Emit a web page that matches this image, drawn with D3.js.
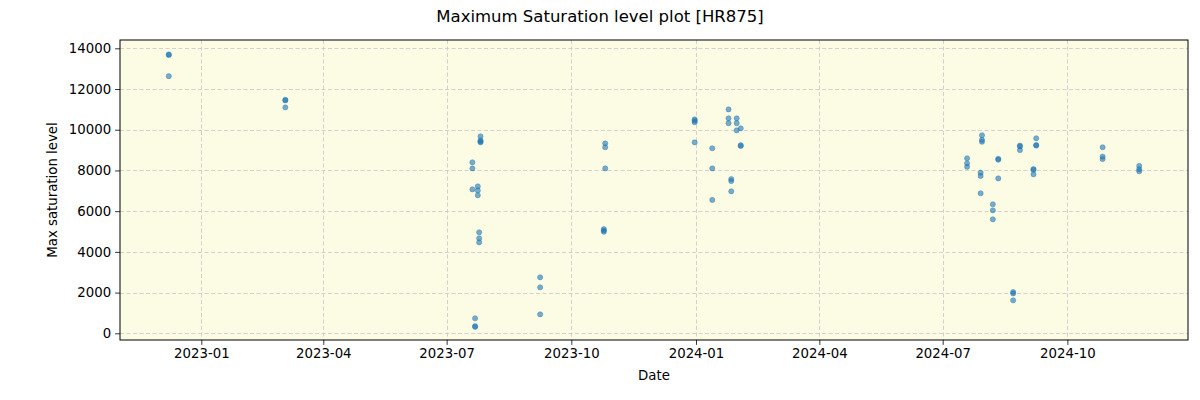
<!DOCTYPE html>
<html>
<head>
<meta charset="utf-8">
<script src="https://cdn.jsdelivr.net/npm/d3@7"></script>
<style>
  body { margin: 0; background: #fff; }
  svg text { font-family: "DejaVu Sans", sans-serif; fill: #000; }
</style>
</head>
<body>
<svg id="chart" width="1200" height="400"></svg>
<script>
// ---- data ----
const dates = [
  "2022-12-08","2022-12-08","2022-12-08",
  "2023-03-04","2023-03-04","2023-03-04",
  "2023-07-26","2023-07-26","2023-07-26","2023-07-26",
  "2023-07-20","2023-07-20","2023-07-20",
  "2023-07-24","2023-07-24","2023-07-24",
  "2023-07-25","2023-07-25","2023-07-25",
  "2023-07-22","2023-07-22","2023-07-22",
  "2023-09-08","2023-09-08","2023-09-08",
  "2023-10-26","2023-10-26","2023-10-26",
  "2023-10-25","2023-10-25","2023-10-25",
  "2023-12-31","2023-12-31","2023-12-31","2023-12-31",
  "2024-01-13","2024-01-13","2024-01-13",
  "2024-01-25","2024-01-25","2024-01-25",
  "2024-01-31","2024-01-31","2024-01-31",
  "2024-02-03","2024-02-03","2024-02-03",
  "2024-01-27","2024-01-27","2024-01-27",
  "2024-07-19","2024-07-19","2024-07-19",
  "2024-07-30","2024-07-30","2024-07-30",
  "2024-07-29","2024-07-29","2024-07-29",
  "2024-08-11","2024-08-11","2024-08-11",
  "2024-08-07","2024-08-07","2024-08-07",
  "2024-08-27","2024-08-27","2024-08-27",
  "2024-09-08","2024-09-08","2024-09-08",
  "2024-09-06","2024-09-06","2024-09-06",
  "2024-08-22","2024-08-22","2024-08-22",
  "2024-10-27","2024-10-27","2024-10-27",
  "2024-11-23","2024-11-23","2024-11-23"
];
const values = [
  13700, 13670, 12630,
  11470, 11440, 11100,
  9680, 9480, 9420, 9380,
  8400, 8100, 7070,
  7220, 7020, 6780,
  4960, 4670, 4470,
  740, 350, 320,
  2750, 2260, 930,
  9330, 9140, 8100,
  5120, 5050, 4990,
  10510, 10440, 10370, 9380,
  9090, 8100, 6550,
  11000, 10560, 10320,
  10560, 10320, 9970,
  10070, 9240, 9200,
  7580, 7480, 6975,
  8600, 8350, 8180,
  9730, 9500, 9410,
  7890, 7730, 6880,
  8570, 8530, 7610,
  6340, 6040, 5600,
  9220, 9180, 9000,
  9580, 9250, 9220,
  8070, 8030, 7810,
  2030, 1960, 1620,
  9140, 8680, 8560,
  8220, 8060, 7960
];
const yTicks = [0, 2000, 4000, 6000, 8000, 10000, 12000, 14000];
const xTicks = ["2023-01-01","2023-04-01","2023-07-01","2023-10-01","2024-01-01","2024-04-01","2024-07-01","2024-10-01"];
const titleText = "Maximum Saturation level plot [HR875]";
const xLabel = "Date";
const yLabel = "Max saturation level";

// ---- layout ----
const svg = d3.select("#chart");
const L = 120, R = 1188, T = 40, B = 340;
const parse = d3.utcParse("%Y-%m-%d");
const pts = dates.map((d, i) => ({ d: parse(d), v: values[i] }));

const x = d3.scaleUtc()
  .domain([parse("2022-11-02"), parse("2024-12-29")])
  .range([L, R]);
const y = d3.scaleLinear()
  .domain([-329, 14408])
  .range([B, T]);

svg.append("rect").attr("x", L).attr("y", T).attr("width", R - L).attr("height", B - T)
  .attr("fill", "#fcfbe3");

// grid
const grid = svg.append("g");
xTicks.forEach(t => {
  const xx = Math.round(x(parse(t))) + 0.5;
  grid.append("line").attr("x1", xx).attr("x2", xx).attr("y1", T).attr("y2", B)
    .attr("stroke", "#c8c8cc").attr("stroke-width", 0.8).attr("stroke-dasharray", "4,2.5");
});
yTicks.forEach(t => {
  const yy = Math.round(y(t)) + 0.5;
  grid.append("line").attr("x1", L).attr("x2", R).attr("y1", yy).attr("y2", yy)
    .attr("stroke", "#c8c8cc").attr("stroke-width", 0.8).attr("stroke-dasharray", "4,2.5");
});

// points
svg.append("g").selectAll("circle").data(pts).enter().append("circle")
  .attr("cx", p => x(p.d)).attr("cy", p => y(p.v)).attr("r", 2.6)
  .attr("fill", "#1f77b4").attr("fill-opacity", 0.6)
  .attr("stroke", "#1f77b4").attr("stroke-opacity", 0.6).attr("stroke-width", 0.6);

// axes
const xAxis = d3.axisBottom(x).tickValues(xTicks.map(parse))
  .tickFormat(d3.utcFormat("%Y-%m")).tickSize(4.9).tickPadding(4);
const yAxis = d3.axisLeft(y).tickValues(yTicks).tickFormat(d3.format("d"))
  .tickSize(4.9).tickPadding(4);

const gx = svg.append("g").attr("transform", `translate(0,${B})`).call(xAxis);
const gy = svg.append("g").attr("transform", `translate(${L},0)`).call(yAxis);
[gx, gy].forEach(g => {
  g.select(".domain").remove();
  g.selectAll("text").style("font-size", "13.3px").style("font-family", "DejaVu Sans");
  g.selectAll("line").attr("stroke", "#000").attr("stroke-width", 0.8);
});

// frame
svg.append("rect").attr("x", L).attr("y", T).attr("width", R - L).attr("height", B - T)
  .attr("fill", "none").attr("stroke", "#000").attr("stroke-width", 1);

// labels
svg.append("text").attr("x", 600).attr("y", 22).attr("text-anchor", "middle")
  .style("font-size", "16.5px").text(titleText);
svg.append("text").attr("x", (L + R) / 2).attr("y", 380).attr("text-anchor", "middle")
  .style("font-size", "13.3px").text(xLabel);
svg.append("text").attr("transform", `translate(57,${(T + B) / 2}) rotate(-90)`)
  .attr("text-anchor", "middle").style("font-size", "13.3px").text(yLabel);
</script>
</body>
</html>
